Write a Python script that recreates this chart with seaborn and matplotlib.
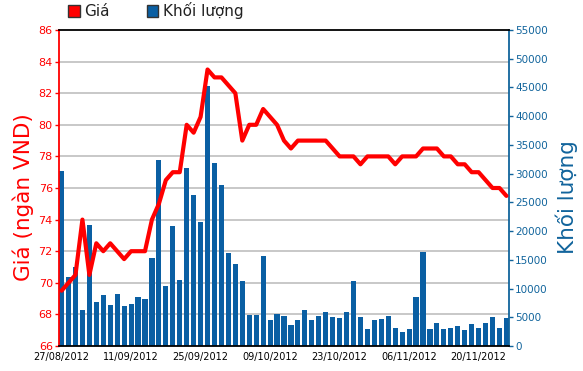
import pandas as pd
import matplotlib
matplotlib.use("Agg")
import matplotlib.pyplot as plt
import matplotlib.transforms as mtransforms
from matplotlib.patches import Patch
import seaborn as sns

# trading days (02/09-03/09 national holiday skipped)
dates = [d.strftime("%d/%m/%Y") for d in pd.bdate_range("2012-08-27", "2012-11-26")
         if d != pd.Timestamp("2012-09-03")]

# price, thousand VND
price = [69.5, 70.0, 70.5, 74.0, 70.5, 72.5, 72.0, 72.5, 72.0, 71.5,
         72.0, 72.0, 72.0, 74.0, 75.0, 76.5, 77.0, 77.0, 80.0, 79.5,
         80.5, 83.5, 83.0, 83.0, 82.5, 82.0, 79.0, 80.0, 80.0, 81.0,
         80.5, 80.0, 79.0, 78.5, 79.0, 79.0, 79.0, 79.0, 79.0, 78.5,
         78.0, 78.0, 78.0, 77.5, 78.0, 78.0, 78.0, 78.0, 77.5, 78.0,
         78.0, 78.0, 78.5, 78.5, 78.5, 78.0, 78.0, 77.5, 77.5, 77.0,
         77.0, 76.5, 76.0, 76.0, 75.5]

# volume
volume = [30400, 12000, 13700, 6200, 21000, 7600, 8800, 7100, 9050, 6900,
          7250, 8500, 8200, 15300, 32400, 10400, 20800, 11500, 30900, 26300,
          21600, 45200, 31800, 28000, 16100, 14200, 11300, 5400, 5400, 15700,
          4500, 5600, 5300, 3600, 4500, 6200, 4500, 5300, 6000, 5100,
          4900, 6000, 11300, 5100, 2900, 4500, 4700, 5300, 3100, 2500,
          2900, 8600, 16400, 2900, 4000, 2900, 3100, 3400, 2700, 3800,
          3100, 4000, 5100, 3100, 4900]

price_ticks = list(range(66, 87, 2))
volume_ticks = list(range(0, 55001, 5000))

RED = "#ff0000"
BLUE = "#0a5fa3"
AXBLUE = "#11649c"

df = pd.DataFrame({"date": dates, "price": price, "volume": volume})
df["idx"] = range(len(df))

sns.set_style("white")
plt.rcParams["font.family"] = ["DejaVu Sans"]

fig = plt.figure(figsize=(5.83, 3.71), dpi=100)
ax_vol = fig.add_axes([59 / 583, 25 / 371, 450 / 583, 316 / 371])
ax_price = ax_vol.twinx()

# gridlines follow the price axis, drawn under the bars
trans = mtransforms.blended_transform_factory(ax_vol.transAxes, ax_price.transData)
ax_vol.hlines(price_ticks[1:-1], 0, 1, transform=trans, color="#c8c8c8", lw=1.4, zorder=0.5)

sns.barplot(data=df, x="date", y="volume", color=BLUE, saturation=1, width=0.74,
            edgecolor=BLUE, linewidth=0, ax=ax_vol, zorder=2)
sns.lineplot(data=df, x="idx", y="price", color=RED, lw=3, ax=ax_price, zorder=3)

ax_vol.set_xlim(-0.37, len(df) - 1 + 0.37)
ax_vol.set_ylim(0, 55000)
ax_price.set_ylim(66, 86)

ax_vol.yaxis.tick_right()
ax_vol.yaxis.set_label_position("right")
ax_price.yaxis.tick_left()
ax_price.yaxis.set_label_position("left")

ax_vol.set_yticks(volume_ticks)
ax_vol.set_yticklabels([str(v) for v in volume_ticks])
ax_price.set_yticks(price_ticks)
ax_price.set_yticklabels([str(p) for p in price_ticks])

xt = list(range(0, len(df), 10))
ax_vol.set_xticks(xt)
ax_vol.set_xticklabels([dates[i] for i in xt])

ax_vol.tick_params(axis="y", colors=AXBLUE, labelsize=7.5, length=3, width=1, pad=1.5)
ax_price.tick_params(axis="y", colors=RED, labelsize=8, length=3, width=1, pad=1.5)
ax_vol.tick_params(axis="x", colors="black", labelsize=7, length=3, width=1, pad=1)

for s in ax_vol.spines.values():
    s.set_visible(False)
for name, col in [("left", RED), ("right", AXBLUE), ("top", "black"), ("bottom", "black")]:
    ax_price.spines[name].set_visible(True)
    ax_price.spines[name].set_color(col)
    ax_price.spines[name].set_linewidth(1.3)

ax_vol.set_xlabel("")
ax_price.set_xlabel("")
ax_price.set_ylabel("Giá (ngàn VND)", color=RED, fontsize=15.5)
ax_vol.set_ylabel("Khối lượng", color=AXBLUE, fontsize=15.5)
ax_price.yaxis.set_label_coords(-0.056, 0.47)
ax_vol.yaxis.set_label_coords(1.104, 0.47)

handles = [Patch(facecolor=RED, edgecolor="#333333"), Patch(facecolor=BLUE, edgecolor="#333333")]
fig.legend(handles, ["Giá", "Khối lượng"], loc="upper left", bbox_to_anchor=(0.107, 1.01),
           ncol=2, frameon=False, fontsize=11, handlelength=0.75, handleheight=0.75,
           handletextpad=0.3, columnspacing=2.4, borderaxespad=0, labelcolor="#222222")

fig.savefig("out.png", dpi=100)
